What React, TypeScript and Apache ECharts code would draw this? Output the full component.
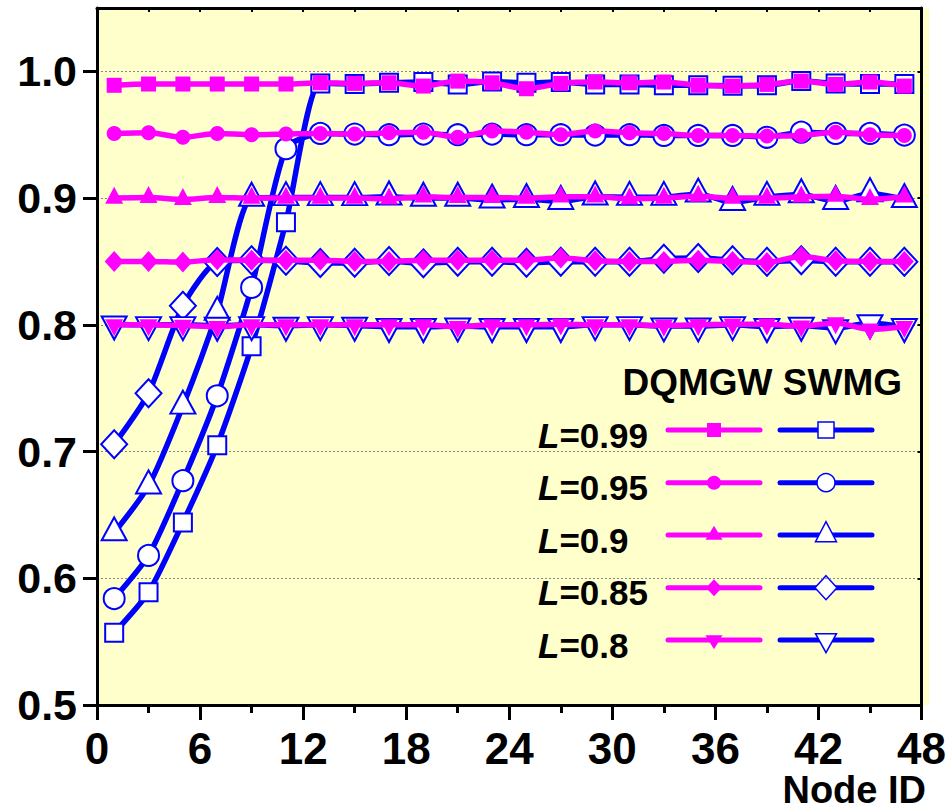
import React, { useEffect, useRef } from "react";
import * as echarts from "echarts";

// ---------------- data ----------------
const nodes = [1, 3, 5, 7, 9, 11, 13, 15, 17, 19, 21, 23, 25, 27, 29, 31, 33, 35, 37, 39, 41, 43, 45, 47];
const xTickStep = 6;
const yTicks = [0.5, 0.6, 0.7, 0.8, 0.9, 1.0];
const levelLabels = ["0.99", "0.95", "0.9", "0.85", "0.8"];

// DQMGW (magenta, filled symbols)
const dq099 = [0.989, 0.99, 0.99, 0.99, 0.99, 0.99, 0.991, 0.9905, 0.991, 0.9884, 0.9923, 0.991, 0.9863, 0.9905, 0.9916, 0.991, 0.9916, 0.989, 0.9884, 0.9897, 0.9923, 0.9897, 0.9916, 0.9884];
const dq095 = [0.951, 0.9515, 0.948, 0.951, 0.95, 0.9505, 0.951, 0.9505, 0.9515, 0.952, 0.948, 0.953, 0.952, 0.95, 0.953, 0.9515, 0.951, 0.9494, 0.9494, 0.9489, 0.9494, 0.952, 0.95, 0.9494];
const dq090 = [0.9, 0.9005, 0.899, 0.9005, 0.9, 0.9, 0.9, 0.9, 0.8995, 0.901, 0.9005, 0.9005, 0.9, 0.901, 0.901, 0.8995, 0.9, 0.9015, 0.9, 0.9, 0.901, 0.9015, 0.899, 0.901];
const dq085 = [0.85, 0.85, 0.8495, 0.8514, 0.851, 0.851, 0.851, 0.85, 0.85, 0.851, 0.851, 0.851, 0.851, 0.8527, 0.8505, 0.85, 0.85, 0.851, 0.85, 0.8492, 0.854, 0.8505, 0.85, 0.85];
const dq080 = [0.8, 0.8, 0.7995, 0.7985, 0.8, 0.8, 0.8, 0.8, 0.8, 0.8, 0.7985, 0.8, 0.8, 0.8005, 0.8, 0.8, 0.7995, 0.8, 0.8005, 0.8005, 0.799, 0.8015, 0.7965, 0.7985];

// SWMG (blue, hollow symbols)
const sw099 = [0.557, 0.589, 0.644, 0.705, 0.783, 0.881, 0.9905, 0.99, 0.991, 0.9916, 0.9897, 0.992, 0.991, 0.9916, 0.9897, 0.9897, 0.989, 0.989, 0.9886, 0.989, 0.9923, 0.9905, 0.99, 0.99];
const sw095 = [0.584, 0.618, 0.677, 0.744, 0.8295, 0.939, 0.951, 0.9505, 0.95, 0.9505, 0.95, 0.9505, 0.95, 0.95, 0.9497, 0.95, 0.9494, 0.9494, 0.9494, 0.948, 0.952, 0.951, 0.951, 0.9497];
const sw090 = [0.636, 0.673, 0.736, 0.81, 0.9, 0.9005, 0.9005, 0.9005, 0.901, 0.9, 0.9, 0.8986, 0.899, 0.8975, 0.901, 0.9007, 0.9007, 0.9033, 0.8967, 0.9007, 0.9028, 0.8975, 0.9036, 0.899];
const sw085 = [0.7057, 0.746, 0.815, 0.8496, 0.851, 0.8505, 0.8488, 0.849, 0.8503, 0.8485, 0.8497, 0.8497, 0.849, 0.8497, 0.8497, 0.8497, 0.8522, 0.8527, 0.851, 0.8497, 0.851, 0.8497, 0.8497, 0.8497];
const sw080 = [0.8005, 0.8, 0.8, 0.7995, 0.8, 0.7995, 0.8, 0.7995, 0.7985, 0.7985, 0.799, 0.7985, 0.7985, 0.7985, 0.8, 0.8, 0.799, 0.799, 0.8, 0.7985, 0.7995, 0.7975, 0.8015, 0.7985];

const dqSeries = [dq099, dq095, dq090, dq085, dq080];
const swSeries = [sw099, sw095, sw090, sw085, sw080];

// ---------------- styles ----------------
const MAGENTA = "#FF00FF";
const BLUE = "#0000FF";
const FONT = "'Liberation Sans', Arial, Helvetica, sans-serif";
const symbolKinds = ["rect", "circle", "triangle", "diamond", "invtri"];

const dqSizes: number[][] = [[15, 15], [15, 15], [18, 17], [19, 21], [18, 17]];
const swSizes: number[][] = [[18, 18], [21, 21], [25, 23], [26, 28], [25, 23]];
const legDqSizes: number[][] = [[14, 14], [14, 14], [17, 14], [16, 17], [17, 14]];
const legSwSizes: number[][] = [[16, 16], [18, 18], [21, 20], [22, 24], [21, 19]];

function symOpts(kind: string, size: number[]) {
  const [w, h] = size;
  if (kind === "rect") return { symbol: "rect", symbolSize: [w, h] };
  if (kind === "circle") return { symbol: "circle", symbolSize: [w, h] };
  if (kind === "diamond") return { symbol: "diamond", symbolSize: [w, h] };
  if (kind === "triangle") return { symbol: "triangle", symbolSize: [w, h], symbolOffset: [0, -h / 6] };
  return { symbol: "triangle", symbolSize: [w, h], symbolRotate: 180, symbolOffset: [0, h / 6] };
}

function legendMarker(kind: string, cx: number, cy: number, size: number[], style: any) {
  const [w, h] = size;
  if (kind === "rect") return { type: "rect", shape: { x: cx - w / 2, y: cy - h / 2, width: w, height: h }, style };
  if (kind === "circle") return { type: "circle", shape: { cx, cy, r: w / 2 }, style };
  if (kind === "diamond")
    return { type: "polygon", shape: { points: [[cx, cy - h / 2], [cx + w / 2, cy], [cx, cy + h / 2], [cx - w / 2, cy]] }, style };
  if (kind === "triangle") {
    const top = cy - (2 * h) / 3;
    return { type: "polygon", shape: { points: [[cx, top], [cx + w / 2, top + h], [cx - w / 2, top + h]] }, style };
  }
  const top = cy - h / 3;
  return { type: "polygon", shape: { points: [[cx - w / 2, top], [cx + w / 2, top], [cx, top + h]] }, style };
}

export default function App() {
  const ref = useRef<HTMLDivElement>(null);

  useEffect(() => {
    if (!ref.current) return;
    const chart = echarts.init(ref.current, null, { renderer: "svg" });

    const series: any[] = [];
    swSeries.forEach((vals, i) => {
      series.push({
        name: "SWMG L=" + levelLabels[i],
        type: "line",
        data: nodes.map((n, j) => [n, vals[j]]),
        smooth: 0.22,
        z: 2,
        ...symOpts(symbolKinds[i], swSizes[i]),
        itemStyle: { color: "#FFFFFF", borderColor: BLUE, borderWidth: 2 },
        lineStyle: { color: BLUE, width: 5.5 },
      });
    });
    dqSeries.forEach((vals, i) => {
      series.push({
        name: "DQMGW L=" + levelLabels[i],
        type: "line",
        data: nodes.map((n, j) => [n, vals[j]]),
        smooth: 0.3,
        z: 3,
        ...symOpts(symbolKinds[i], dqSizes[i]),
        itemStyle: { color: MAGENTA, borderWidth: 0 },
        lineStyle: { color: MAGENTA, width: 5.5 },
      });
    });

    // legend drawn with graphic elements
    const graphics: any[] = [
      {
        type: "rect",
        z: -10,
        shape: { x: 97, y: 8, width: 832, height: 697 },
        style: { fill: "#FFFFCC" },
      },
      {
        type: "text",
        style: {
          x: 902, y: 382.5, text: "DQMGW SWMG", fill: "#000",
          fontSize: 37, fontWeight: "bold", fontFamily: FONT, align: "right", verticalAlign: "middle",
        },
      },
      {
        type: "text",
        style: {
          x: 926, y: 790, text: "Node ID", fill: "#000",
          fontSize: 38, fontWeight: "bold", fontFamily: FONT, align: "right", verticalAlign: "middle",
        },
      },
    ];
    const rowY = [430, 482.7, 535, 587.7, 640];
    levelLabels.forEach((lab, i) => {
      const y = rowY[i];
      graphics.push({
        type: "text",
        style: {
          x: 538, y: y + 5, text: "{i|L}=" + lab, fill: "#000",
          fontSize: 35, fontWeight: "bold", fontFamily: FONT, align: "left", verticalAlign: "middle",
          rich: { i: { fontStyle: "italic", fontWeight: "bold", fontSize: 35, fontFamily: FONT, fill: "#000" } },
        },
      });
      graphics.push({
        type: "line",
        shape: { x1: 668, y1: y, x2: 760, y2: y },
        style: { stroke: MAGENTA, lineWidth: 5, lineCap: "round" },
      });
      graphics.push(legendMarker(symbolKinds[i], 714, y, legDqSizes[i], { fill: MAGENTA }));
      graphics.push({
        type: "line",
        shape: { x1: 780, y1: y, x2: 872, y2: y },
        style: { stroke: BLUE, lineWidth: 5, lineCap: "round" },
      });
      graphics.push(legendMarker(symbolKinds[i], 826, y, legSwSizes[i], { fill: "#FFFFFF", stroke: BLUE, lineWidth: 1.5 }));
    });

    const axisLine = { show: true, onZero: false, lineStyle: { color: "#000", width: 3 } };
    const labelStyle = { color: "#000", fontSize: 44, fontWeight: "bold", fontFamily: FONT };

    chart.setOption({
      animation: false,
      backgroundColor: "#FFFFFF",
      grid: { left: 97, right: 26.3, top: 8, bottom: 105, containLabel: false },
      xAxis: [
        {
          type: "value",
          position: "bottom",
          min: 0,
          max: 48,
          interval: xTickStep,
          axisLine,
          axisTick: { show: true, length: 15, lineStyle: { color: "#000", width: 3 } },
          minorTick: { show: true, splitNumber: 2, length: 8, lineStyle: { color: "#000", width: 3 } },
          axisLabel: { ...labelStyle, fontSize: 44, margin: 21 },
          splitLine: { show: false },
        },
        {
          type: "value",
          position: "top",
          min: 0,
          max: 48,
          interval: 3,
          axisLine,
          axisTick: { show: true, inside: true, length: 4, lineStyle: { color: "#000", width: 2 } },
          axisLabel: { show: false },
          splitLine: { show: false },
        },
      ],
      yAxis: [
        {
          type: "value",
          position: "left",
          min: 0.5,
          max: 1.05,
          interval: 0.1,
          axisLine,
          axisTick: { show: true, length: 14, customValues: yTicks, lineStyle: { color: "#000", width: 3 } },
          axisLabel: {
            ...labelStyle,
            fontSize: 43,
            margin: 20,
            formatter: (v: number) => (v > 1.001 ? "" : v.toFixed(1)),
          },
          splitLine: { show: true, lineStyle: { color: "#888888", width: 1, type: [2, 2] } },
        },
        {
          type: "value",
          position: "right",
          min: 0.5,
          max: 1.05,
          interval: 0.1,
          axisLine,
          axisTick: { show: true, inside: true, length: 4, customValues: yTicks, lineStyle: { color: "#000", width: 2 } },
          axisLabel: { show: false },
          splitLine: { show: false },
        },
      ],
      graphic: graphics,
      series,
    });

    return () => chart.dispose();
  }, []);

  return (
    <div
      ref={ref}
      style={{ position: "fixed", left: 0, top: 0, width: 949, height: 810, background: "#fff" }}
    />
  );
}
